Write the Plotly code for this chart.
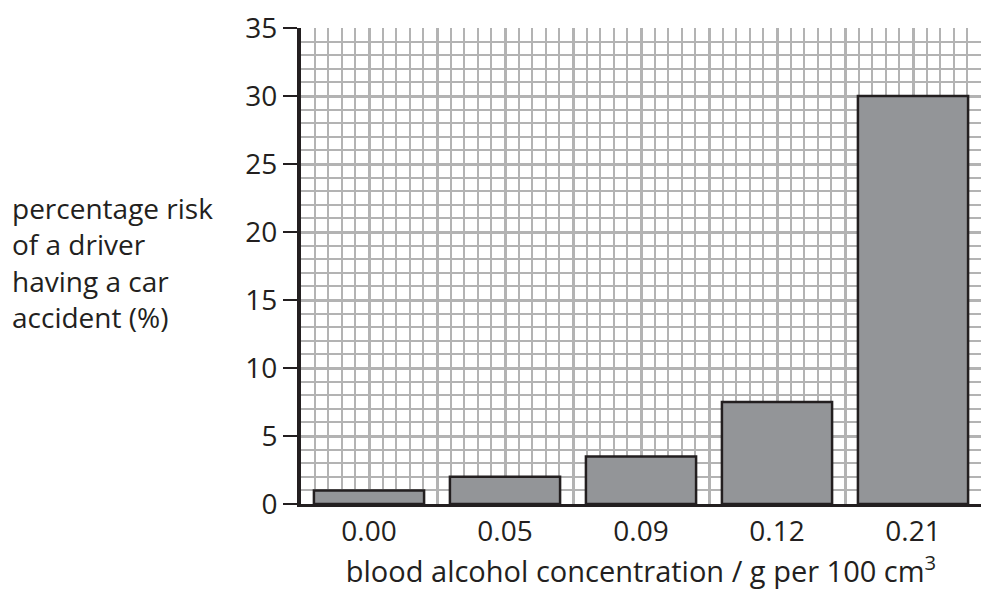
import plotly.graph_objects as go

categories = ["0.00", "0.05", "0.09", "0.12", "0.21"]
risk_values = [1.0, 2.0, 3.5, 7.5, 30.0]
y_tick_values = [0, 5, 10, 15, 20, 25, 30, 35]

FONT = "Open Sans"
FS = 28
INK = "#231f20"
GRID = "#b3b3b3"

fig = go.Figure()

# empty trace so the grid-only axis pair is instantiated and draws its grid
fig.add_trace(go.Scatter(x=[], y=[], xaxis="x", yaxis="y",
                         showlegend=False, hoverinfo="skip"))

fig.add_trace(go.Bar(
    x=categories,
    y=risk_values,
    xaxis="x2",
    yaxis="y",
    marker=dict(color="#939598", line=dict(color=INK, width=2.5)),
    showlegend=False,
    hoverinfo="skip",
))

fig.update_layout(
    width=981,
    height=590,
    margin=dict(l=301, r=0, t=28, b=86, autoexpand=False),
    paper_bgcolor="white",
    plot_bgcolor="white",
    bargap=0.19,
    font=dict(family=FONT, size=FS, color=INK),
    xaxis=dict(
        range=[0, 50],
        dtick=5,
        tick0=0,
        showgrid=True,
        gridcolor=GRID,
        gridwidth=3,
        minor=dict(dtick=1, tick0=0, showgrid=True, gridcolor=GRID, gridwidth=2),
        showticklabels=False,
        ticks="",
        zeroline=False,
        showline=False,
        fixedrange=True,
    ),
    xaxis2=dict(
        type="category",
        overlaying="x",
        side="bottom",
        showgrid=False,
        zeroline=False,
        showline=True,
        linecolor=INK,
        linewidth=3,
        ticks="",
        tickfont=dict(family=FONT, size=FS, color=INK),
        title=dict(
            text="blood alcohol concentration / g per 100 cm<sup>3</sup>",
            font=dict(family=FONT, size=29, color=INK),
            standoff=6,
        ),
        fixedrange=True,
    ),
    yaxis=dict(
        range=[0, 35],
        tickvals=y_tick_values,
        showgrid=True,
        gridcolor=GRID,
        gridwidth=3,
        minor=dict(dtick=1, tick0=0, showgrid=True, gridcolor=GRID, gridwidth=2),
        zeroline=False,
        showline=True,
        linecolor=INK,
        linewidth=4,
        ticks="outside",
        ticklen=14,
        tickwidth=2,
        tickcolor=INK,
        tickfont=dict(family=FONT, size=FS, color=INK),
        fixedrange=True,
    ),
    annotations=[dict(
        text="percentage risk<br>of a driver<br>having a car<br>accident (%)",
        xref="paper", yref="paper",
        x=-0.428, y=0.508,
        xanchor="left", yanchor="middle",
        align="left",
        showarrow=False,
        font=dict(family=FONT, size=28, color=INK),
    )],
)

fig.write_html(
    "out.html",
    config={"displayModeBar": False},
    post_script="document.body.style.margin='0';document.body.style.overflow='hidden';",
)
